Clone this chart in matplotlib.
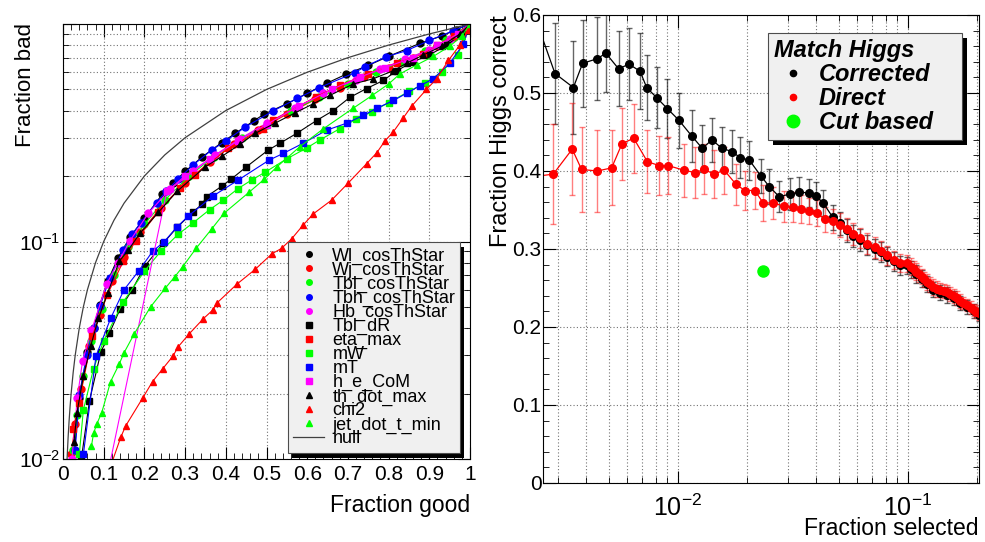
import matplotlib
matplotlib.use("Agg")
from matplotlib import pyplot as plt
from matplotlib.lines import Line2D
from matplotlib.patches import Rectangle
from matplotlib.ticker import FixedLocator, FixedFormatter, LogLocator, MultipleLocator, NullFormatter
from matplotlib.transforms import ScaledTranslation

plt.rcParams['font.family'] = ['Liberation Sans', 'DejaVu Sans']
plt.rcParams['mathtext.fontset'] = 'custom'
plt.rcParams['mathtext.rm'] = 'Liberation Sans'
plt.rcParams['mathtext.it'] = 'Liberation Sans:italic'

# ---- left panel: fraction bad vs fraction good ----
wl_x = [0.028, 0.04, 0.06, 0.075, 0.09, 0.11, 0.135, 0.165, 0.20, 0.244, 0.271, 0.30, 0.342, 0.39, 0.423, 0.47, 0.494, 0.55, 0.60, 0.648, 0.695, 0.75, 0.80, 0.877, 0.93, 0.965, 1.0]
wl_y = [0.011, 0.019, 0.031, 0.040, 0.051, 0.066, 0.084, 0.105, 0.128, 0.165, 0.186, 0.21, 0.245, 0.285, 0.314, 0.36, 0.385, 0.43, 0.48, 0.534, 0.587, 0.645, 0.71, 0.815, 0.88, 0.94, 1.0]

wj_x = [0.02, 0.03, 0.045, 0.065, 0.09, 0.12, 0.15, 0.19, 0.24, 0.30, 0.36, 0.42, 0.48, 0.55, 0.62, 0.68, 0.74, 0.80, 0.86, 0.92, 0.96, 1.0]
wj_y = [0.0105, 0.0145, 0.021, 0.033, 0.046, 0.066, 0.085, 0.11, 0.143, 0.186, 0.232, 0.28, 0.325, 0.385, 0.45, 0.51, 0.57, 0.63, 0.70, 0.79, 0.87, 1.0]

tblc_x = [0.025, 0.035, 0.05, 0.07, 0.095, 0.125, 0.16, 0.20, 0.25, 0.31, 0.37, 0.44, 0.50, 0.56, 0.63, 0.70, 0.77, 0.83, 0.89, 0.94, 1.0]
tblc_y = [0.011, 0.016, 0.024, 0.035, 0.049, 0.07, 0.094, 0.12, 0.155, 0.2, 0.245, 0.3, 0.345, 0.4, 0.46, 0.53, 0.6, 0.67, 0.75, 0.84, 1.0]

tbh_x = [0.03, 0.04, 0.058, 0.075, 0.091, 0.115, 0.147, 0.17, 0.191, 0.23, 0.253, 0.282, 0.32, 0.365, 0.40, 0.447, 0.517, 0.576, 0.63, 0.717, 0.742, 0.794, 0.844, 0.90, 0.958, 1.0]
tbh_y = [0.011, 0.0197, 0.030, 0.040, 0.0505, 0.068, 0.091, 0.108, 0.122, 0.151, 0.17, 0.193, 0.225, 0.263, 0.29, 0.335, 0.399, 0.455, 0.51, 0.597, 0.637, 0.707, 0.754, 0.84, 0.93, 1.0]

hb_x = [0.022, 0.035, 0.048, 0.070, 0.107, 0.135, 0.165, 0.21, 0.263, 0.32, 0.374, 0.435, 0.50, 0.57, 0.64, 0.72, 0.78, 0.84, 0.90, 0.95, 1.0]
hb_y = [0.01, 0.019, 0.0282, 0.039, 0.0636, 0.08, 0.101, 0.135, 0.174, 0.21, 0.25, 0.297, 0.35, 0.41, 0.48, 0.555, 0.62, 0.69, 0.76, 0.85, 1.0]

tbldr_x = [0.045, 0.065, 0.093, 0.114, 0.14, 0.17, 0.201, 0.246, 0.28, 0.32, 0.341, 0.353, 0.391, 0.414, 0.45, 0.504, 0.533, 0.574, 0.623, 0.664, 0.705, 0.746, 0.787, 0.82, 0.86, 0.90, 0.943, 0.98, 1.0]
tbldr_y = [0.01, 0.0185, 0.031, 0.0378, 0.0488, 0.06, 0.077, 0.098, 0.116, 0.137, 0.148, 0.161, 0.18, 0.194, 0.22, 0.263, 0.283, 0.314, 0.36, 0.40, 0.46, 0.505, 0.55, 0.61, 0.67, 0.72, 0.80, 0.9, 1.0]

eta_x = [0.025, 0.039, 0.072, 0.109, 0.148, 0.179, 0.233, 0.287, 0.324, 0.406, 0.492, 0.517, 0.622, 0.681, 0.750, 0.82, 0.885, 0.918, 0.96, 1.0]
eta_y = [0.0137, 0.018, 0.0368, 0.057, 0.081, 0.101, 0.136, 0.176, 0.202, 0.268, 0.33, 0.362, 0.463, 0.524, 0.59, 0.66, 0.73, 0.80, 0.88, 1.0]

mw_x = [0.04, 0.05, 0.075, 0.10, 0.148, 0.20, 0.24, 0.283, 0.320, 0.36, 0.394, 0.43, 0.464, 0.496, 0.55, 0.60, 0.631, 0.68, 0.72, 0.76, 0.80, 0.85, 0.89, 0.93, 0.97, 1.0]
mw_y = [0.0105, 0.0168, 0.026, 0.035, 0.0528, 0.073, 0.09, 0.108, 0.122, 0.14, 0.155, 0.175, 0.192, 0.208, 0.24, 0.27, 0.293, 0.33, 0.365, 0.395, 0.435, 0.49, 0.535, 0.60, 0.72, 1.0]

mt_x = [0.05, 0.081, 0.117, 0.15, 0.186, 0.22, 0.249, 0.279, 0.308, 0.369, 0.431, 0.507, 0.541, 0.59, 0.648, 0.697, 0.738, 0.771, 0.812, 0.844, 0.877, 0.91, 0.95, 0.984, 1.0]
mt_y = [0.0105, 0.0297, 0.0443, 0.06, 0.0732, 0.09, 0.10, 0.116, 0.131, 0.162, 0.192, 0.237, 0.254, 0.283, 0.325, 0.35, 0.38, 0.41, 0.445, 0.48, 0.52, 0.56, 0.66, 0.81, 1.0]

hecom_x = [0.115, 0.255, 0.30, 0.36, 0.43, 0.5, 0.58, 0.66, 0.73, 0.79, 0.86, 0.92, 0.97, 1.0]
hecom_y = [0.0095, 0.17, 0.2, 0.24, 0.29, 0.345, 0.42, 0.5, 0.57, 0.63, 0.70, 0.8, 0.9, 1.0]

thdot_x = [0.027, 0.034, 0.050, 0.068, 0.087, 0.11, 0.138, 0.160, 0.189, 0.234, 0.28, 0.349, 0.390, 0.435, 0.472, 0.521, 0.57, 0.615, 0.656, 0.713, 0.762, 0.812, 0.844, 0.885, 0.93, 0.975, 1.0]
thdot_y = [0.012, 0.0162, 0.024, 0.033, 0.0443, 0.058, 0.081, 0.091, 0.109, 0.136, 0.17, 0.22, 0.246, 0.28, 0.314, 0.35, 0.39, 0.43, 0.47, 0.53, 0.56, 0.61, 0.66, 0.72, 0.79, 0.9, 1.0]

chi2_x = [0.11, 0.142, 0.154, 0.196, 0.220, 0.245, 0.270, 0.283, 0.310, 0.345, 0.368, 0.379, 0.427, 0.472, 0.513, 0.537, 0.562, 0.59, 0.615, 0.66, 0.70, 0.746, 0.771, 0.791, 0.812, 0.836, 0.857, 0.893, 0.918, 0.947, 0.975, 0.996, 1.0]
chi2_y = [0.0085, 0.0126, 0.0142, 0.0191, 0.0227, 0.026, 0.0297, 0.0328, 0.0376, 0.0442, 0.0484, 0.0523, 0.0636, 0.0744, 0.0877, 0.093, 0.103, 0.119, 0.134, 0.155, 0.185, 0.228, 0.256, 0.29, 0.32, 0.37, 0.42, 0.50, 0.56, 0.68, 0.80, 0.94, 1.0]

jet_x = [0.07, 0.075, 0.083, 0.095, 0.117, 0.138, 0.150, 0.175, 0.215, 0.251, 0.275, 0.294, 0.327, 0.365, 0.396, 0.458, 0.494, 0.525, 0.582, 0.64, 0.713, 0.76, 0.80, 0.828, 0.87, 0.91, 0.95, 0.98, 1.0]
jet_y = [0.0115, 0.0131, 0.0145, 0.0163, 0.0227, 0.0273, 0.0308, 0.0376, 0.05, 0.0609, 0.069, 0.0765, 0.093, 0.114, 0.135, 0.169, 0.193, 0.22, 0.273, 0.33, 0.41, 0.47, 0.53, 0.59, 0.65, 0.71, 0.79, 0.88, 1.0]

null_x = [0.01, 0.0125, 0.015, 0.0175, 0.02, 0.025, 0.03, 0.04, 0.05, 0.06, 0.08, 0.1, 0.125, 0.15, 0.2, 0.25, 0.3, 0.4, 0.5, 0.6, 0.7, 0.8, 0.9, 1.0]
null_y = [0.01, 0.0125, 0.015, 0.0175, 0.02, 0.025, 0.03, 0.04, 0.05, 0.06, 0.08, 0.1, 0.125, 0.15, 0.2, 0.25, 0.3, 0.4, 0.5, 0.6, 0.7, 0.8, 0.9, 1.0]

series = [
    ("Wl_cosThStar", wl_x, wl_y, "black", "o"),
    ("Wj_cosThStar", wj_x, wj_y, "red", "o"),
    ("Tbl_cosThStar", tblc_x, tblc_y, "#00ff00", "o"),
    ("Tbh_cosThStar", tbh_x, tbh_y, "blue", "o"),
    ("Hb_cosThStar", hb_x, hb_y, "magenta", "o"),
    ("Tbl_dR", tbldr_x, tbldr_y, "black", "s"),
    ("eta_max", eta_x, eta_y, "red", "s"),
    ("mW", mw_x, mw_y, "#00ff00", "s"),
    ("mT", mt_x, mt_y, "blue", "s"),
    ("h_e_CoM", hecom_x, hecom_y, "magenta", "s"),
    ("th_dot_max", thdot_x, thdot_y, "black", "^"),
    ("chi2", chi2_x, chi2_y, "red", "^"),
    ("jet_dot_t_min", jet_x, jet_y, "#00ff00", "^"),
]

# ---- right panel: fraction Higgs correct vs fraction selected ----
corr_x = [0.0024, 0.00292, 0.00351, 0.00385, 0.00446, 0.00486, 0.00552, 0.00612, 0.00684, 0.00731, 0.00808, 0.00899, 0.0101, 0.01147, 0.01276, 0.01406, 0.01553, 0.01717, 0.01866, 0.02042, 0.02289, 0.02494, 0.02758, 0.03069, 0.03369, 0.03724, 0.0398, 0.0428, 0.0470, 0.0506, 0.0545, 0.0578, 0.0618, 0.0665, 0.0719, 0.0761, 0.0809, 0.0866, 0.0927, 0.0992, 0.1035, 0.1088, 0.1145, 0.1204, 0.1288, 0.138, 0.1475, 0.1578, 0.1688, 0.1806, 0.1932, 0.203]
corr_y = [0.596, 0.525, 0.507, 0.538, 0.544, 0.551, 0.531, 0.537, 0.528, 0.507, 0.494, 0.480, 0.465, 0.445, 0.429, 0.440, 0.429, 0.425, 0.417, 0.414, 0.394, 0.380, 0.367, 0.3705, 0.3727, 0.372, 0.368, 0.359, 0.341, 0.333, 0.324, 0.317, 0.312, 0.305, 0.300, 0.296, 0.290, 0.284, 0.279, 0.279, 0.274, 0.268, 0.262, 0.255, 0.248, 0.244, 0.241, 0.237, 0.231, 0.226, 0.220, 0.216]
corr_err = [0.0, 0.065, 0.06, 0.056, 0.053, 0.05, 0.048, 0.046, 0.049, 0.042, 0.039, 0.038, 0.035, 0.033, 0.03, 0.028, 0.028, 0.027, 0.026, 0.025, 0.022, 0.022, 0.02, 0.02, 0.019, 0.018, 0.018, 0.017, 0.016, 0.015, 0.015, 0.014, 0.014, 0.013, 0.013, 0.013, 0.012, 0.012, 0.012, 0.011, 0.011, 0.011, 0.011, 0.01, 0.01, 0.01, 0.01, 0.009, 0.009, 0.009, 0.009, 0.008]

dir_x = [0.0024, 0.00287, 0.00347, 0.00381, 0.00446, 0.00515, 0.00571, 0.00642, 0.00736, 0.00827, 0.00905, 0.01062, 0.01186, 0.01301, 0.01434, 0.01589, 0.01787, 0.01951, 0.02155, 0.02349, 0.0259, 0.0289, 0.03153, 0.03416, 0.0371, 0.04035, 0.0435, 0.047, 0.0506, 0.0545, 0.0578, 0.0618, 0.0665, 0.0719, 0.0761, 0.0809, 0.0866, 0.0927, 0.0992, 0.1035, 0.106, 0.1088, 0.112, 0.1145, 0.117, 0.1204, 0.124, 0.1288, 0.133, 0.138, 0.143, 0.1475, 0.152, 0.1578, 0.163, 0.1688, 0.174, 0.1806, 0.187, 0.1932, 0.198, 0.203]
dir_y = [0.393, 0.396, 0.428, 0.402, 0.400, 0.404, 0.435, 0.442, 0.412, 0.407, 0.407, 0.401, 0.398, 0.402, 0.396, 0.401, 0.383, 0.375, 0.375, 0.359, 0.359, 0.355, 0.3535, 0.351, 0.349, 0.346, 0.338, 0.336, 0.331, 0.326, 0.319, 0.314, 0.307, 0.302, 0.298, 0.292, 0.286, 0.282, 0.2817, 0.2773, 0.274, 0.271, 0.268, 0.2645, 0.261, 0.258, 0.2545, 0.251, 0.249, 0.2474, 0.246, 0.2445, 0.242, 0.240, 0.237, 0.2337, 0.231, 0.228, 0.225, 0.2218, 0.2197, 0.2176]
dir_err = [0.0, 0.064, 0.059, 0.055, 0.052, 0.048, 0.046, 0.044, 0.040, 0.038, 0.037, 0.034, 0.033, 0.032, 0.031, 0.030, 0.026, 0.025, 0.024, 0.023, 0.021, 0.02, 0.019, 0.018, 0.017, 0.017, 0.016, 0.015, 0.015, 0.014, 0.014, 0.013, 0.013, 0.013, 0.012, 0.012, 0.012, 0.011, 0.011, 0.011, 0.011, 0.011, 0.01, 0.01, 0.01, 0.01, 0.01, 0.01, 0.01, 0.009, 0.009, 0.009, 0.009, 0.009, 0.009, 0.009, 0.008, 0.008, 0.008, 0.008, 0.008, 0.008]

cut_x = [0.0235]
cut_y = [0.272]

xtick_left = [0, 0.1, 0.2, 0.3, 0.4, 0.5, 0.6, 0.7, 0.8, 0.9, 1.0]
xtick_left_labels = ["0", "0.1", "0.2", "0.3", "0.4", "0.5", "0.6", "0.7", "0.8", "0.9", "1"]

GRID = dict(color="0.45", linestyle=(0, (1, 2)), linewidth=0.8)
TICKFONT = 15

fig = plt.figure(figsize=(9.85, 5.42), dpi=100)

# ===== left =====
ax1 = fig.add_axes([63 / 985, 83 / 542, 407 / 985, 435 / 542])
for name, x, y, c, m in series:
    ax1.plot(x, y, color=c, marker=m, markersize=5, linewidth=0.8, label=name)
ax1.plot(null_x, null_y, color="0.25", linewidth=0.9, label="null")
ax1.set_yscale("log")
ax1.set_xlim(0, 1)
ax1.set_ylim(0.01, 1.0)
ax1.xaxis.set_major_locator(FixedLocator(xtick_left))
ax1.xaxis.set_major_formatter(FixedFormatter(xtick_left_labels))
ax1.xaxis.set_minor_locator(MultipleLocator(0.02))
ax1.yaxis.set_major_locator(FixedLocator([0.01, 0.1, 1.0]))
ax1.yaxis.set_major_formatter(FixedFormatter([r"$10^{-2}$", r"$10^{-1}$", ""]))
ax1.yaxis.set_minor_locator(LogLocator(base=10, subs=[2, 3, 4, 5, 6, 7, 8, 9]))
ax1.yaxis.set_minor_formatter(NullFormatter())
ax1.grid(axis="x", which="major", **GRID)
ax1.grid(axis="y", which="both", **GRID)
ax1.tick_params(which="both", direction="in", top=True, right=True, labelsize=TICKFONT)
ax1.tick_params(which="major", length=9)
ax1.tick_params(which="minor", length=4.5)
ax1.tick_params(axis="x", pad=4)
ax1.tick_params(axis="y", pad=2)

leg1 = ax1.legend(loc="lower left", bbox_to_anchor=(0.553, 0.014, 0.423, 0.478), mode="expand",
                  fontsize=13, labelspacing=-0.17, handlelength=1.7, handletextpad=0.45,
                  borderpad=0.3, borderaxespad=0, fancybox=False, framealpha=1, numpoints=1)
leg1.get_frame().set_facecolor("#f0f0f0")
leg1.get_frame().set_edgecolor("0.3")
leg1.get_frame().set_linewidth(0.8)
for h in leg1.legend_handles[:-1]:
    h.set_markersize(4)
    h.set_linestyle("none")
leg1.set_zorder(6)

fig.text(26 / 985, 1 - 23 / 542, "Fraction bad", rotation=90, ha="center", va="top", fontsize=16)
fig.text(470 / 985, 1 - 512 / 542, "Fraction good", ha="right", va="baseline", fontsize=16.5)

# ===== right =====
ax2 = fig.add_axes([543 / 985, 59 / 542, 436 / 985, 468 / 542])
ax2.errorbar(corr_x, corr_y, yerr=corr_err, color="black", marker="o", markersize=5.5, linewidth=0.9,
             ecolor=(0, 0, 0, 0.6), elinewidth=1, capsize=2, label="Corrected")
ax2.errorbar(dir_x, dir_y, yerr=dir_err, color="red", marker="o", markersize=5.5, linewidth=0.9,
             ecolor=(1, 0, 0, 0.5), elinewidth=1, capsize=2, label="Direct")
ax2.plot(cut_x, cut_y, linestyle="none", marker="o", markersize=8, color="#00ff00", label="Cut based")
ax2.set_xscale("log")
ax2.set_xlim(0.00259, 0.2035)
ax2.set_ylim(0, 0.6)
ax2.xaxis.set_major_locator(FixedLocator([0.01, 0.1]))
ax2.xaxis.set_major_formatter(FixedFormatter([r"$10^{-2}$", r"$10^{-1}$"]))
ax2.xaxis.set_minor_locator(LogLocator(base=10, subs=[2, 3, 4, 5, 6, 7, 8, 9]))
ax2.xaxis.set_minor_formatter(NullFormatter())
ax2.yaxis.set_major_locator(MultipleLocator(0.1))
ax2.yaxis.set_major_formatter(FixedFormatter(["", "0", "0.1", "0.2", "0.3", "0.4", "0.5", "0.6"]))
ax2.yaxis.set_minor_locator(MultipleLocator(0.02))
ax2.grid(axis="x", which="both", **GRID)
ax2.grid(axis="y", which="major", **GRID)
ax2.tick_params(which="both", direction="in", top=True, right=True, labelsize=TICKFONT)
ax2.tick_params(which="major", length=9)
ax2.tick_params(which="minor", length=4.5)
ax2.tick_params(axis="x", pad=8, labelsize=18)
ax2.tick_params(axis="y", pad=1)

handles2 = [
    Line2D([], [], linestyle="none", marker="o", markersize=4.5, color="black"),
    Line2D([], [], linestyle="none", marker="o", markersize=4.5, color="red"),
    Line2D([], [], linestyle="none", marker="o", markersize=9, color="#00ff00"),
]
font2 = {"weight": "bold", "style": "italic", "size": 17}
leg2 = ax2.legend(handles2, ["Corrected", "Direct", "Cut based"], loc="upper left",
                  bbox_to_anchor=(0.516, 0.735, 0.445, 0.2265), mode="expand",
                  prop=font2, title="Match Higgs", title_fontproperties=font2, alignment="left",
                  labelspacing=0.05, handlelength=1.6, handletextpad=0.3, borderpad=0.25,
                  borderaxespad=0, fancybox=False, framealpha=1)
leg2.get_frame().set_facecolor("#f0f0f0")
leg2.get_frame().set_edgecolor("0.3")
leg2.get_frame().set_linewidth(0.8)
leg2.set_zorder(6)

fig.text(501 / 985, 1 - 15 / 542, "Fraction Higgs correct", rotation=90, ha="center", va="top", fontsize=17)
fig.text(979 / 985, 2 / 542, "Fraction selected", ha="right", va="bottom", fontsize=16.5)

# ROOT style black drop shadows behind the legend boxes
fig.canvas.draw()
for ax, leg, dx, dy in [(ax1, leg1, 4, -5), (ax2, leg2, 5, -5)]:
    bb = leg.get_frame().get_window_extent().transformed(ax.transAxes.inverted())
    shift = ax.transAxes + ScaledTranslation(dx / 100, dy / 100, fig.dpi_scale_trans)
    ax.add_patch(Rectangle((bb.x0, bb.y0), bb.width, bb.height, transform=shift,
                           facecolor="black", edgecolor="none", zorder=5.5, clip_on=False))

fig.savefig("out.png", dpi=100)
